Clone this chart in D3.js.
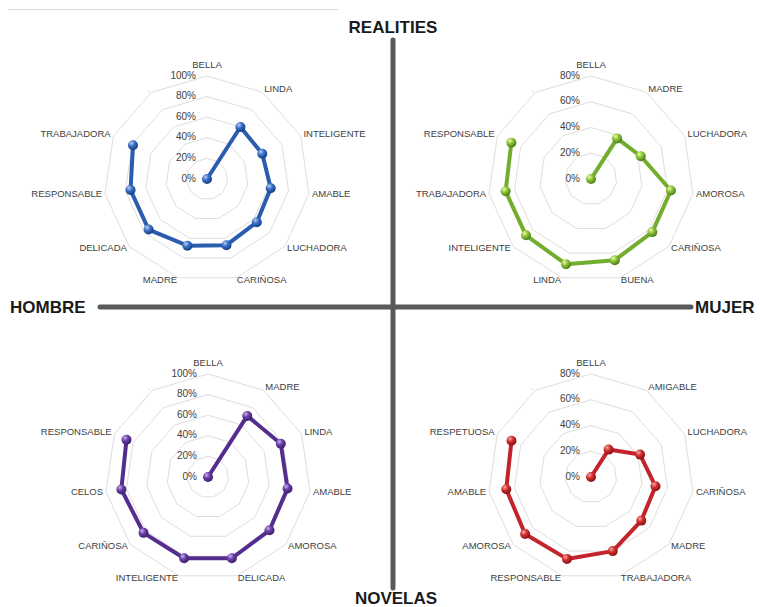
<!DOCTYPE html>
<html>
<head>
<meta charset="utf-8">
<script src="https://cdn.jsdelivr.net/npm/d3@7"></script>
<style>
  html, body { margin: 0; padding: 0; background: #fff; overflow: hidden; }
  svg { display: block; }
</style>
</head>
<body>
<svg id="chart" width="760" height="607"></svg>
<script>
// ---------- DATA ----------
const hombreRealitiesCats = ["BELLA","LINDA","INTELIGENTE","AMABLE","LUCHADORA","CARIÑOSA","MADRE","DELICADA","RESPONSABLE","TRABAJADORA","."];
const hombreRealitiesVals = [0, 60, 59, 62.5, 64, 67, 67.5, 75, 75, 79, null];

const mujerRealitiesCats = ["BELLA","MADRE","LUCHADORA","AMOROSA","CARIÑOSA","BUENA","LINDA","INTELIGENTE","TRABAJADORA","RESPONSABLE","."];
const mujerRealitiesVals = [0, 37.5, 42.5, 62.7, 63, 65.7, 69, 66.8, 67, 68, null];

const hombreNovelasCats = ["BELLA","MADRE","LINDA","AMABLE","AMOROSA","DELICADA","INTELIGENTE","CARIÑOSA","CELOS","RESPONSABLE","."];
const hombreNovelasVals = [0, 70.5, 77.7, 78, 79, 82.2, 82.2, 82.8, 85, 87, null];

const mujerNovelasCats = ["BELLA","AMIGABLE","LUCHADORA","CARIÑOSA","MADRE","TRABAJADORA","RESPONSABLE","AMOROSA","AMABLE","RESPETUOSA","."];
const mujerNovelasVals = [0, 25.3, 41.9, 50.6, 51.7, 60, 66.3, 67.7, 66.5, 67.9, null];

const ticks100 = [0, 20, 40, 60, 80, 100];
const ticks80 = [0, 20, 40, 60, 80];

const axisLabels = { top: "REALITIES", bottom: "NOVELAS", left: "HOMBRE", right: "MUJER" };

// ---------- DRAW ----------
const svg = d3.select("#chart");
const defs = svg.append("defs");

function makeGrad(id, light, mid, dark) {
  const g = defs.append("radialGradient").attr("id", id)
    .attr("cx", "35%").attr("cy", "30%").attr("r", "70%");
  g.append("stop").attr("offset", "0%").attr("stop-color", light);
  g.append("stop").attr("offset", "45%").attr("stop-color", mid);
  g.append("stop").attr("offset", "100%").attr("stop-color", dark);
}
makeGrad("gBlue", "#b9d0f5", "#3a6fc4", "#163f85");
makeGrad("gGreen", "#f2f9a0", "#8cc43a", "#4d7f16");
makeGrad("gPurple", "#c9b3ee", "#6a3fa8", "#3c1f6e");
makeGrad("gRed", "#f6aaa8", "#d0302f", "#8a1216");

// background frame line
svg.append("line").attr("x1", 8).attr("x2", 338).attr("y1", 9.5).attr("y2", 9.5)
  .attr("stroke", "#d9d9d9").attr("stroke-width", 1);

function drawRadar(cx, cy, cats, vals, max, ticks, color, gradId) {
  const R = 103;
  const n = cats.length;
  const r = d3.scaleLinear().domain([0, max]).range([0, R]);
  const ang = d3.scaleLinear().domain([0, n]).range([0, 2 * Math.PI]);
  const g = svg.append("g").attr("transform", `translate(${cx},${cy})`);

  // rings
  const ringLine = d3.lineRadial().angle((d, i) => ang(i)).radius(d => r(d)).curve(d3.curveLinearClosed);
  ticks.filter(t => t > 0).forEach(t => {
    g.append("path").attr("d", ringLine(d3.range(n).map(() => t)))
      .attr("fill", "none").attr("stroke", "#dedede").attr("stroke-width", 1);
  });

  // tick labels
  g.selectAll("text.tick").data(ticks).join("text")
    .attr("class", "tick")
    .attr("x", -11).attr("y", d => -r(d))
    .attr("text-anchor", "end").attr("dominant-baseline", "middle")
    .attr("font-family", "Liberation Sans, Arial, sans-serif")
    .attr("font-size", 10).attr("fill", "#404040")
    .text(d => d + "%");

  // category labels
  cats.forEach((c, i) => {
    const a = ang(i);
    const s = Math.sin(a), co = Math.cos(a);
    const [px, py] = d3.pointRadial(a, R + 3);
    let anchor = "middle", dy = 0;
    if (s > 0.1) anchor = "start";
    else if (s < -0.1) anchor = "end";
    else dy = -co * 8;
    g.append("text")
      .attr("x", px).attr("y", py + dy)
      .attr("text-anchor", anchor).attr("dominant-baseline", "middle")
      .attr("font-family", "Liberation Sans, Arial, sans-serif")
      .attr("font-size", 9.5).attr("fill", c === "." ? "#bfbfbf" : "#404040")
      .text(c);
  });

  // series line
  const line = d3.lineRadial().angle((d, i) => ang(i)).radius(d => r(d))
    .defined(d => d != null);
  g.append("path").attr("d", line(vals))
    .attr("fill", "none").attr("stroke", color).attr("stroke-width", 4)
    .attr("stroke-linejoin", "round");

  // markers
  vals.forEach((v, i) => {
    if (v == null) return;
    const [px, py] = d3.pointRadial(ang(i), r(v));
    g.append("circle").attr("cx", px).attr("cy", py).attr("r", 5)
      .attr("fill", `url(#${gradId})`);
  });
}

drawRadar(207, 179, hombreRealitiesCats, hombreRealitiesVals, 100, ticks100, "#2a5cb0", "gBlue");
drawRadar(591, 179, mujerRealitiesCats, mujerRealitiesVals, 80, ticks80, "#72ad2e", "gGreen");
drawRadar(208, 477, hombreNovelasCats, hombreNovelasVals, 100, ticks100, "#552d8e", "gPurple");
drawRadar(591, 477, mujerNovelasCats, mujerNovelasVals, 80, ticks80, "#c3232a", "gRed");

// quadrant axes
svg.append("line").attr("x1", 393).attr("x2", 393).attr("y1", 40).attr("y2", 588)
  .attr("stroke", "#595959").attr("stroke-width", 5).attr("stroke-linecap", "round");
svg.append("line").attr("x1", 100).attr("x2", 691).attr("y1", 307).attr("y2", 307)
  .attr("stroke", "#595959").attr("stroke-width", 5).attr("stroke-linecap", "round");

const bold = { "font-family": "Liberation Sans, Arial, sans-serif", "font-weight": "bold", "font-size": 17, "fill": "#1a1a1a" };
function addText(x, y, t, anchor) {
  const el = svg.append("text").attr("x", x).attr("y", y).attr("text-anchor", anchor).text(t);
  Object.entries(bold).forEach(([k, v]) => el.attr(k, v));
}
addText(393, 33, axisLabels.top, "middle");
addText(10, 313, axisLabels.left, "start");
addText(695, 313, axisLabels.right, "start");
addText(396, 604, axisLabels.bottom, "middle");
</script>
</body>
</html>
